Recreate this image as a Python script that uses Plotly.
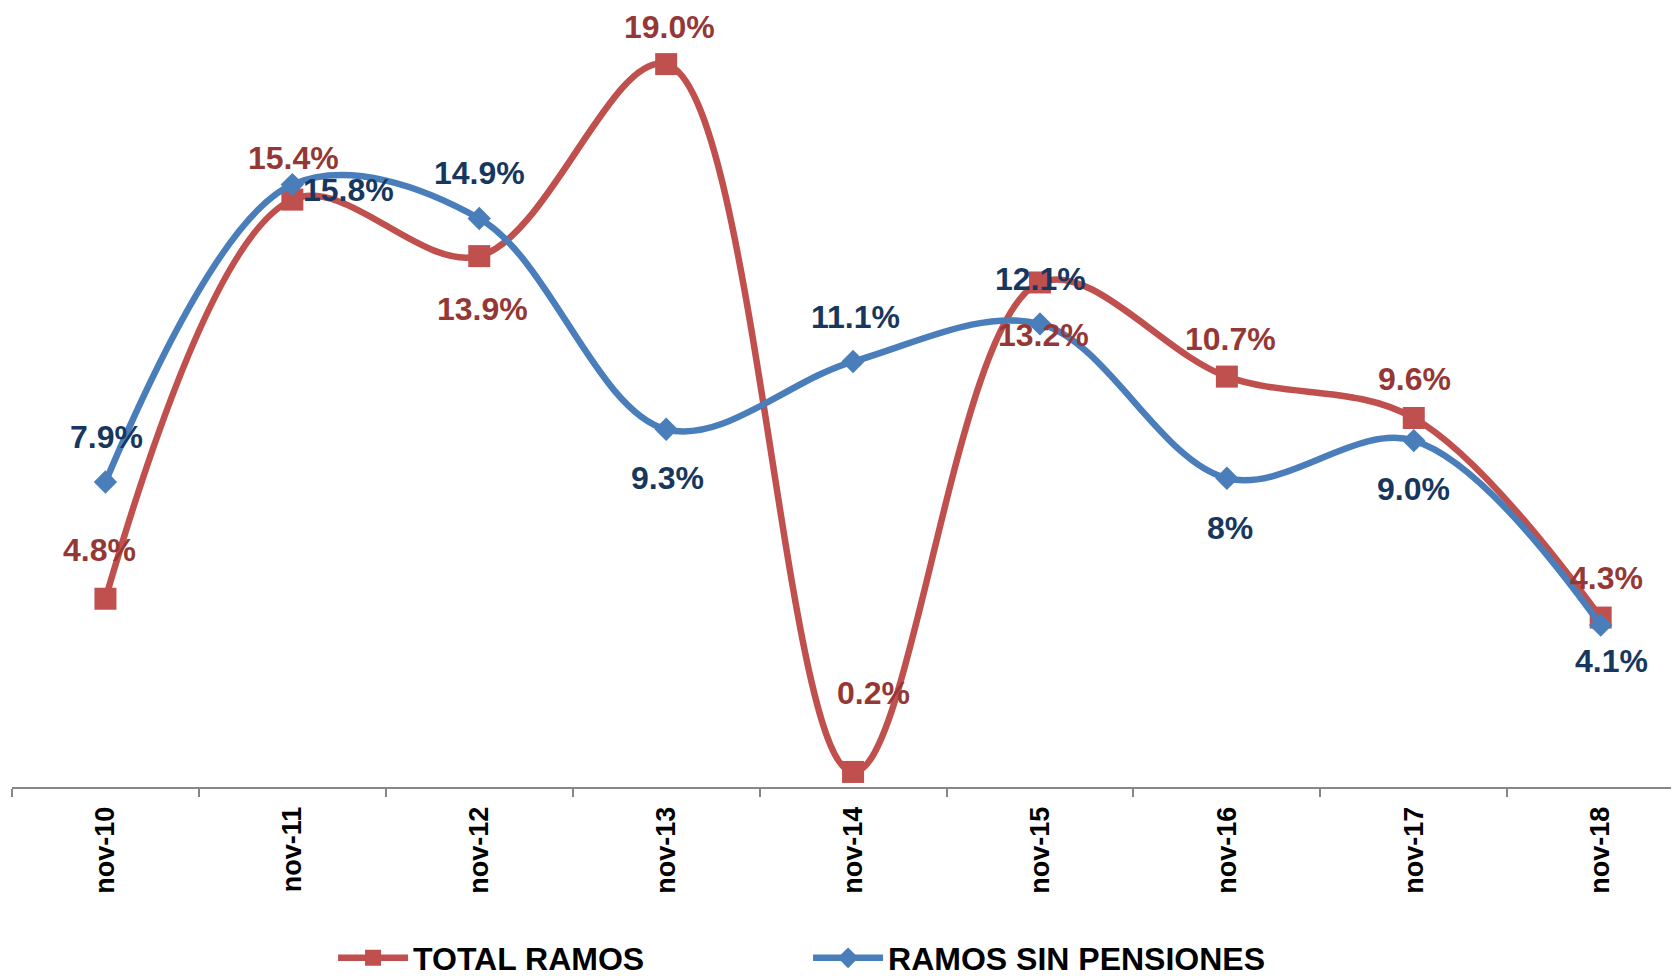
import plotly.graph_objects as go

categories = ["nov-10", "nov-11", "nov-12", "nov-13", "nov-14", "nov-15", "nov-16", "nov-17", "nov-18"]
total_ramos = [4.8, 15.4, 13.9, 19.0, 0.2, 13.2, 10.7, 9.6, 4.3]
total_labels = ["4.8%", "15.4%", "13.9%", "19.0%", "0.2%", "13.2%", "10.7%", "9.6%", "4.3%"]
sin_pensiones = [7.9, 15.8, 14.9, 9.3, 11.1, 12.1, 8.0, 9.0, 4.1]
sin_labels = ["7.9%", "15.8%", "14.9%", "9.3%", "11.1%", "12.1%", "8%", "9.0%", "4.1%"]

# label offsets in pixels (xshift, yshift) - styling only
red_off = [(-6, 49), (1, 42), (3, -53), (3, 37), (20, 79), (4, -53), (4, 38), (1, 39), (6, 40)]
blue_off = [(1, 45), (56, -5), (0, 45), (1, -49), (2, 45), (1, 45), (3, -50), (0, -48), (11, -36)]

RED = "#C0504D"
BLUE = "#4A7EBB"
RED_TXT = "#953735"
BLUE_TXT = "#17375E"
FONT = "Liberation Sans, Arial, sans-serif"

fig = go.Figure()
fig.add_trace(go.Scatter(
    x=categories, y=total_ramos, name="TOTAL RAMOS", mode="lines+markers",
    line=dict(color=RED, width=6.5, shape="spline", smoothing=1.0),
    marker=dict(symbol="square", size=22, color=RED),
    cliponaxis=False,
))
fig.add_trace(go.Scatter(
    x=categories, y=sin_pensiones, name="RAMOS SIN PENSIONES", mode="lines+markers",
    line=dict(color=BLUE, width=6.5, shape="spline", smoothing=1.0),
    marker=dict(symbol="diamond", size=18, color=BLUE),
    cliponaxis=False,
))

annotations = []
for c, v, t, (dx, dy) in zip(categories, total_ramos, total_labels, red_off):
    annotations.append(dict(x=c, y=v, text=f"<b>{t}</b>", showarrow=False,
                            xshift=dx, yshift=dy,
                            font=dict(family=FONT, size=32, color=RED_TXT)))
for c, v, t, (dx, dy) in zip(categories, sin_pensiones, sin_labels, blue_off):
    annotations.append(dict(x=c, y=v, text=f"<b>{t}</b>", showarrow=False,
                            xshift=dx, yshift=dy,
                            font=dict(family=FONT, size=32, color=BLUE_TXT)))

fig.update_layout(
    width=1671, height=968,
    margin=dict(l=4, r=0, t=0, b=189, autoexpand=False),
    paper_bgcolor="white", plot_bgcolor="white",
    font=dict(family=FONT, color="black"),
    annotations=annotations,
    showlegend=True,
    legend=dict(orientation="h", x=0.1926, xanchor="left", y=-0.2196, yanchor="middle",
                font=dict(family=FONT, size=32, color="black", weight="bold"),
                entrywidth=390, entrywidthmode="pixels", itemwidth=70,
                bgcolor="rgba(0,0,0,0)", itemsizing="trace"),
    xaxis=dict(type="category", range=[-0.5, 8.419], showgrid=False, zeroline=False,
               automargin=False,
               showline=True, linecolor="#868686", linewidth=2,
               ticks="outside", tickson="boundaries", ticklen=8, tickcolor="#868686", tickwidth=2,
               tickangle=-90, ticklabelstandoff=7,
               tickfont=dict(family=FONT, size=27, color="black", weight="bold")),
    yaxis=dict(range=[-0.2, 20.49], visible=False, showgrid=False, zeroline=False,
               automargin=False),
)

fig.write_html("out.html")
